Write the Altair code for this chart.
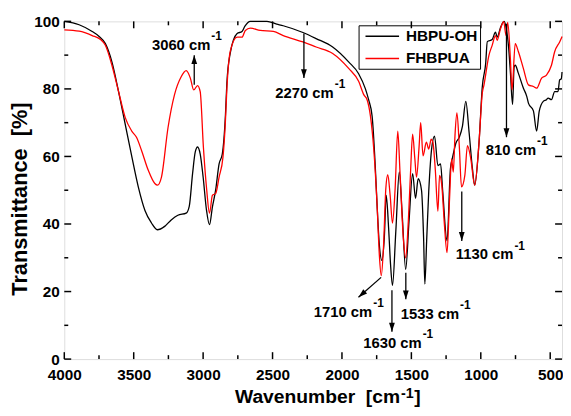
import math
import altair as alt
import pandas as pd

W, H = 504, 342
XMIN, XMAX = 415, 4000
FONT = "Liberation Sans"

# ---- spectra (wavenumber cm-1, transmittance %) ----
hb_wn = [4000, 3893, 3799, 3751, 3704, 3657, 3609, 3561, 3514, 3467, 3419, 3372, 3330,
         3277, 3230, 3182, 3122, 3100, 3076, 3057, 3040, 3021, 3000, 2976, 2954, 2933,
         2910, 2885, 2862, 2839, 2829, 2805, 2755, 2720, 2700, 2660, 2540, 2470, 2423,
         2281, 2186, 2067, 1952, 1880, 1831, 1808, 1783, 1760, 1747, 1731, 1712, 1695,
         1681, 1664, 1650, 1636, 1612, 1587, 1566, 1541, 1517, 1491, 1470, 1451, 1427,
         1412, 1403, 1390, 1375, 1352, 1333, 1309, 1290, 1274, 1243, 1219, 1203, 1179,
         1155, 1132, 1108, 1084, 1060, 1044, 1013, 989, 965, 953, 918, 894, 882, 858,
         832, 816, 799, 787, 771, 760, 752, 729, 693, 669, 657, 621, 598, 579, 550,
         527, 515, 491, 468, 444, 432, 420, 415]
hb_t = [100.0, 99.0, 97.0, 95.6, 93.4, 88.0, 79.2, 69.5, 60.0, 51.0, 44.0, 40.3, 38.3,
        39.3, 41.2, 42.6, 43.2, 45.2, 54.9, 61.3, 62.8, 60.7, 53.9, 44.2, 39.8, 45.1,
        50.0, 57.8, 60.7, 72.4, 81.7, 90.5, 96.4, 97.0, 98.5, 100.0, 100.0, 99.2, 98.7,
        96.7, 94.9, 92.4, 88.0, 84.5, 80.0, 76.8, 72.0, 57.0, 45.6, 34.0, 29.2, 35.9,
        48.5, 38.8, 28.0, 21.8, 37.9, 55.4, 42.7, 26.6, 40.8, 54.9, 47.6, 53.4, 50.0,
        35.9, 22.2, 35.0, 49.6, 63.0, 66.0, 57.3, 57.8, 49.5, 35.0, 56.3, 59.8, 64.0,
        65.7, 69.0, 76.3, 67.0, 56.3, 51.5, 64.0, 80.7, 87.5, 94.0, 94.6, 96.8, 95.3, 98.2,
        100.0, 97.8, 92.0, 85.0, 75.4, 86.5, 87.0, 84.6, 80.2, 77.8, 75.8, 73.5, 67.5, 73.4,
        76.3, 76.8, 77.3, 76.8, 79.2, 79.2, 82.7, 83.0, 85.0]

fh_wn = [4000, 3893, 3799, 3739, 3704, 3657, 3609, 3561, 3514, 3479, 3443, 3395, 3348,
         3329, 3300, 3253, 3206, 3158, 3122, 3092, 3068, 3040, 3021, 2998, 2974, 2954,
         2933, 2910, 2885, 2857, 2840, 2829, 2803, 2755, 2720, 2696, 2660, 2589, 2494,
         2423, 2281, 2186, 2067, 1950, 1879, 1843, 1819, 1795, 1771, 1747, 1731, 1717,
         1701, 1684, 1670, 1653, 1636, 1617, 1598, 1582, 1558, 1541, 1522, 1505, 1491,
         1475, 1463, 1444, 1433, 1416, 1392, 1375, 1357, 1345, 1328, 1309, 1297, 1281,
         1262, 1243, 1226, 1210, 1198, 1186, 1172, 1155, 1139, 1115, 1096, 1072, 1044,
         1013, 989, 977, 941, 918, 894, 882, 858, 835, 818, 806, 787, 775, 752, 729, 693,
         657, 621, 598, 562, 527, 491, 468, 432, 415]
fh_t = [97.5, 97.1, 95.8, 94.6, 92.9, 87.0, 79.2, 71.5, 67.5, 65.6, 61.7, 55.9, 52.0,
        51.5, 53.9, 68.5, 78.3, 83.6, 85.4, 83.2, 79.7, 81.0, 79.2, 62.7, 50.0, 43.2,
        48.5, 49.0, 53.9, 59.8, 70.0, 80.0, 91.4, 95.3, 95.3, 97.3, 98.0, 97.3, 97.0,
        95.8, 93.9, 92.4, 90.5, 86.0, 82.2, 78.3, 76.8, 72.0, 62.2, 45.6, 31.0, 24.7,
        33.0, 50.5, 54.6, 48.5, 40.3, 50.5, 67.5, 55.4, 35.9, 30.0, 40.8, 56.3, 66.6,
        59.3, 53.9, 63.2, 70.0, 60.2, 64.2, 62.2, 65.1, 64.2, 56.3, 43.8, 54.4, 51.5,
        39.8, 31.5, 46.6, 59.3, 55.4, 66.1, 72.9, 63.2, 51.0, 54.4, 63.2, 59.3, 51.5,
        64.0, 78.8, 81.2, 90.0, 92.9, 95.8, 94.4, 97.8, 99.9, 95.8, 99.7, 89.0, 79.7,
        93.4, 91.0, 86.0, 81.2, 80.7, 80.2, 83.2, 84.1, 87.0, 91.0, 93.9, 95.5]

series_names = ["HBPU-OH", "FHBPUA"]
series_colors = ["#000000", "#ff0000"]

# ---- annotations ----
ann_labels = ["3060 cm", "2270 cm", "810 cm", "1130 cm", "1710 cm", "1533 cm", "1630 cm"]
ann_wn = [2948, 2059, 602, 765, 1782, 1156, 1426]
ann_t = [91.6, 77.3, 60.4, 29.5, 12.5, 12.0, 3.2]

arr_tail_wn = [3064, 2274, 815, 1137, 1718, 1540, 1640]
arr_tail_t = [81.2, 96.4, 99.3, 49.6, 24.2, 25.6, 20.4]
arr_head_wn = [3064, 2274, 815, 1137, 1881, 1540, 1640]
arr_head_t = [90.0, 83.2, 65.7, 35.0, 18.3, 17.7, 8.1]

x_major = [4000, 3500, 3000, 2500, 2000, 1500, 1000, 500]
x_minor = [3750, 3250, 2750, 2250, 1750, 1250, 750]
y_major = [0, 20, 40, 60, 80, 100]
y_minor = [10, 30, 50, 70, 90]

# ---- build tables ----
spec = pd.concat([
    pd.DataFrame({"wn": hb_wn, "T": hb_t, "series": series_names[0]}),
    pd.DataFrame({"wn": fh_wn, "T": fh_t, "series": series_names[1]}),
], ignore_index=True)

px_x = W / (XMAX - XMIN)
px_y = H / 100.0
angles = []
for tw, tt, hw, ht in zip(arr_tail_wn, arr_tail_t, arr_head_wn, arr_head_t):
    dx = -(hw - tw) * px_x
    dy = -(ht - tt) * px_y
    angles.append(math.degrees(math.atan2(dx, -dy)) % 360)
arrows = pd.DataFrame({"wn": arr_tail_wn, "T": arr_tail_t,
                       "wn2": arr_head_wn, "T2": arr_head_t, "ang": angles})
ann = pd.DataFrame({"wn": ann_wn, "T": ann_t, "label": ann_labels})

xs = alt.Scale(domain=[XMIN, XMAX], reverse=True, nice=False, zero=False)
ys = alt.Scale(domain=[0, 100], nice=False, zero=True)

xaxis = alt.Axis(values=x_major, format="d", ticks=False, domain=False, grid=False,
                 title=None, labelFont=FONT, labelFontSize=15.5, labelFontWeight="bold",
                 labelColor="black", labelPadding=9, labelFlush=False, labelOverlap=False)
yaxis = alt.Axis(values=y_major, format="d", ticks=False, domain=False, grid=False,
                 title="Transmittance\u00a0 [%]", titleFont=FONT, titleFontSize=22,
                 titleFontWeight="bold", titleColor="black", titleAngle=270,
                 titleX=-45, titleY=179.5, titleAlign="center", titleBaseline="middle",
                 labelFont=FONT, labelFontSize=15.5, labelFontWeight="bold",
                 labelColor="black", labelPadding=5, labelFlush=False, labelOverlap=False)


def X(f="wn"):
    return alt.X(f"{f}:Q", scale=xs, axis=xaxis)


def Y(f="T"):
    return alt.Y(f"{f}:Q", scale=ys, axis=yaxis)


lines = alt.Chart(spec).mark_line(strokeWidth=1.3, interpolate="monotone").encode(
    x=X(), y=Y(),
    color=alt.Color("series:N",
                    scale=alt.Scale(domain=series_names, range=series_colors),
                    sort=series_names,
                    legend=alt.Legend(orient="none", legendX=298, legendY=4, title=None,
                                      symbolType="M-2.125,0H2.125", symbolSize=256,
                                      symbolStrokeWidth=1.5, symbolOffset=13,
                                      labelOffset=15, labelFont=FONT, labelFontSize=15.5,
                                      labelFontWeight="bold", labelColor="black",
                                      strokeColor="black", padding=2, rowPadding=4.5)),
)


def xticks(vals, length, top):
    df = pd.DataFrame({"wn": vals})
    y0, y1 = (0, length) if top else (H, H - length)
    return alt.Chart(df).mark_rule(color="black", strokeWidth=1.5).encode(
        x=X(), y=alt.value(y0), y2=alt.value(y1))


def yticks(vals, length, right):
    df = pd.DataFrame({"T": vals})
    x0, x1 = (W, W - length) if right else (0, length)
    return alt.Chart(df).mark_rule(color="black", strokeWidth=1.5).encode(
        y=Y(), x=alt.value(x0), x2=alt.value(x1))


ticks = [xticks(x_major, 7, False), xticks(x_minor, 4, False),
         xticks(x_major, 7, True), xticks(x_minor, 4, True),
         yticks(y_major, 7, False), yticks(y_minor, 4, False),
         yticks(y_major, 7, True), yticks(y_minor, 4, True)]

shafts = alt.Chart(arrows).mark_rule(color="black", strokeWidth=1.3).encode(
    x=X(), y=Y(), x2="wn2:Q", y2="T2:Q")
heads = alt.Chart(arrows).mark_point(shape="M0,0L0.65,2L-0.65,2Z", size=81, filled=True,
                                     color="black", opacity=1, strokeWidth=0).encode(
    x=X("wn2"), y=Y("T2"), angle=alt.Angle("ang:Q", scale=None))

ann_main = alt.Chart(ann).mark_text(align="right", baseline="alphabetic", font=FONT,
                                    fontSize=15, fontWeight="bold", color="black").encode(
    x=X(), y=Y(), text="label:N")
ann_sup = alt.Chart(ann).mark_text(text="-1", align="left", baseline="alphabetic", font=FONT,
                                   fontSize=12, fontWeight="bold", color="black",
                                   dx=1, dy=-10).encode(x=X(), y=Y())

tdf = pd.DataFrame({"a": ["Wavenumber\u00a0 [cm"], "b": ["-1"], "c": ["]"]})
xt_main = alt.Chart(tdf).mark_text(align="right", baseline="alphabetic", font=FONT,
                                   fontSize=19.5, fontWeight="bold", color="black").encode(
    text="a:N", x=alt.value(340), y=alt.value(386))
xt_sup = alt.Chart(tdf).mark_text(align="left", baseline="alphabetic", font=FONT,
                                  fontSize=14.5, fontWeight="bold", color="black").encode(
    text="b:N", x=alt.value(341), y=alt.value(381.5))
xt_close = alt.Chart(tdf).mark_text(align="left", baseline="alphabetic", font=FONT,
                                    fontSize=19.5, fontWeight="bold", color="black").encode(
    text="c:N", x=alt.value(354.5), y=alt.value(386))

chart = alt.layer(lines, *ticks, shafts, heads, ann_main, ann_sup,
                  xt_main, xt_sup, xt_close).properties(
    width=W, height=H,
    autosize=alt.AutoSizeParams(type="none"),
    padding={"left": 57, "top": 11, "right": 1, "bottom": 47},
).configure_view(stroke="black", strokeWidth=1.5).configure(background="white")

chart.save("out.html", embed_options={"renderer": "svg", "actions": False})
